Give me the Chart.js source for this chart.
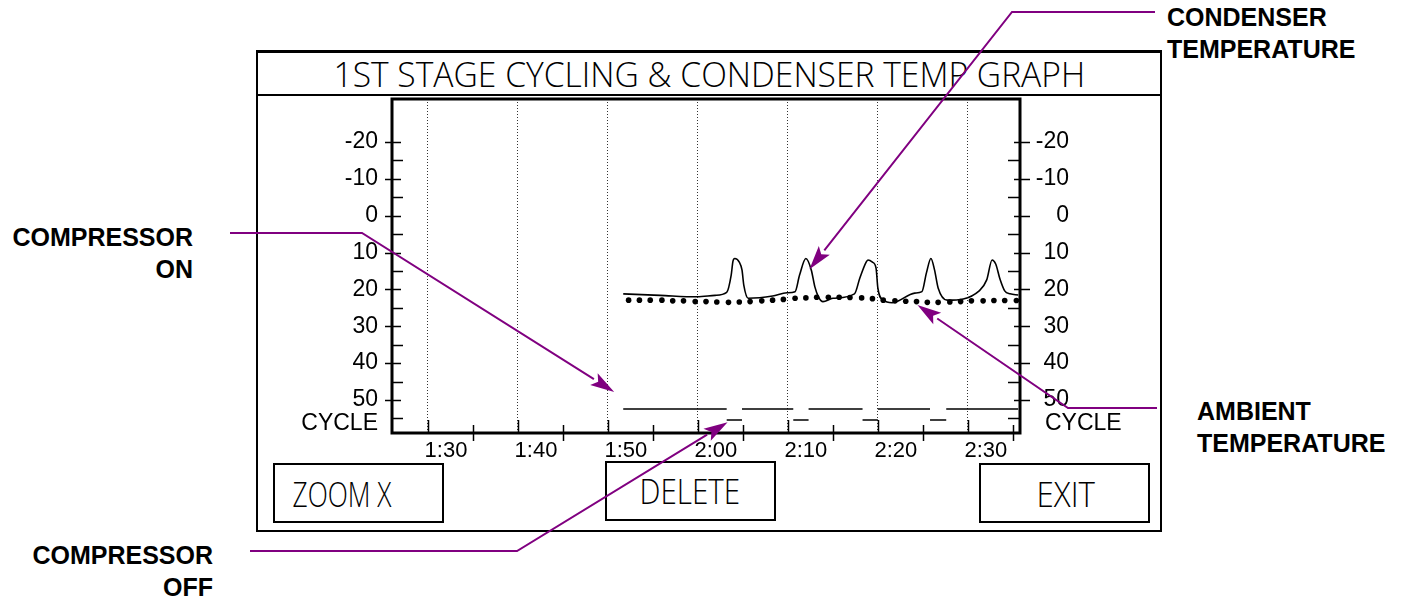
<!DOCTYPE html>
<html>
<head>
<meta charset="utf-8">
<script src="https://cdn.jsdelivr.net/npm/chart.js@4.4.1/dist/chart.umd.min.js"></script>
<style>
  html, body { margin: 0; padding: 0; background: #fff; }
  #wrap { position: relative; width: 1405px; height: 600px; overflow: hidden; font-family: "Liberation Sans", Arial, sans-serif; }
  #panel { position: absolute; left: 256px; top: 50px; width: 906px; height: 482px; box-sizing: border-box; border: 2px solid #000; border-top-width: 3px; }
  #titlebar { position: absolute; left: 256px; top: 94px; width: 906px; height: 0; border-top: 2px solid #000; }
  .btn { position: absolute; box-sizing: border-box; border: 2px solid #000; }
  .thin { position: absolute; white-space: nowrap; font-family: "Open Sans", "Liberation Sans", sans-serif; font-weight: 300; line-height: 1; color: #000; transform-origin: 50% 50%; }
  .note { position: absolute; font-weight: bold; font-size: 25px; line-height: 32px; color: #000; white-space: nowrap; }
  canvas { position: absolute; left: 0; top: 0; z-index: 2; }
</style>
</head>
<body>
<div id="wrap">
  <div id="panel"></div>
  <div id="titlebar"></div>
  <div class="btn" style="left:273px;top:463px;width:171px;height:60px"></div>
  <div class="btn" style="left:605px;top:461px;width:171px;height:60px"></div>
  <div class="btn" style="left:979px;top:463px;width:171px;height:60px"></div>

  <div class="thin" data-cx="709" data-base="87" data-w="752" data-size="35">1ST STAGE CYCLING &amp; CONDENSER TEMP GRAPH</div>
  <div class="thin" data-cx="342" data-base="507" data-w="99" data-size="34">ZOOM X</div>
  <div class="thin" data-cx="690" data-base="504" data-w="101" data-size="34">DELETE</div>
  <div class="thin" data-cx="1065" data-base="507" data-w="58" data-size="34">EXIT</div>

  <div class="note" style="left:1167px;top:1px">CONDENSER<br>TEMPERATURE</div>
  <div class="note" style="right:1212px;top:221px;text-align:right">COMPRESSOR<br>ON</div>
  <div class="note" style="left:1197px;top:395px">AMBIENT<br>TEMPERATURE</div>
  <div class="note" style="right:1192px;top:539px;text-align:right">COMPRESSOR<br>OFF</div>

  <canvas id="graph" width="1405" height="600"></canvas>
</div>

<script>
// time axis in minutes (90 = 1:30)
const timeTicks = [90, 100, 110, 120, 130, 140, 150];
const timeMinorTicks = [95, 105, 115, 125, 135, 145, 155];
const tempTicks = [-20, -15, -10, -5, 0, 5, 10, 15, 20, 25, 30, 35, 40, 45, 50, 55];

// condenser temperature (solid line)
const condenserTime = [111.7, 115.8, 119.9, 121.9, 123.2, 123.7, 123.9, 124.1, 124.6, 124.9, 125.1, 125.6,
  128.3, 129.9, 130.8, 131.3, 132.0, 132.6, 133.0, 133.4, 133.9, 135.0,
  137.4, 138.0, 138.7, 138.9, 139.4, 139.8, 140.0, 140.6, 141.6,
  144.1, 144.9, 145.4, 145.9, 146.3, 146.7, 147.7,
  151.3, 152.1, 152.7, 153.1, 153.6, 154.1, 154.7, 155.6];
const condenserTemp = [21.2, 21.6, 22.0, 21.6, 20.8, 16.1, 12.3, 11.6, 12.6, 14.7, 18.8, 22.4,
  21.8, 20.9, 20.6, 16.1, 11.6, 14.7, 19.3, 22.0, 23.3, 22.4,
  21.2, 16.9, 12.6, 12.0, 12.6, 14.2, 19.6, 22.9, 23.6,
  21.0, 20.6, 15.5, 11.6, 14.7, 19.6, 22.9,
  20.3, 17.4, 12.0, 13.1, 17.4, 20.4, 21.2, 21.5];

// ambient temperature samples (dots)
const ambientTime = [112.3, 113.5, 114.7, 116.0, 117.2, 118.4, 119.7, 120.9, 122.1, 123.4, 124.6, 125.8,
  127.1, 128.3, 129.5, 130.8, 132.0, 133.2, 134.5, 135.7, 136.9, 138.2,
  139.4, 140.6, 141.9, 143.1, 144.3, 145.5, 146.7, 148.0, 149.2, 150.4,
  151.7, 152.9, 154.1, 155.4];
const ambientTemp = [22.9, 22.9, 22.9, 22.9, 23.1, 23.1, 23.3, 23.3, 23.4, 23.5, 23.4, 23.3,
  23.1, 22.9, 22.7, 22.4, 22.3, 22.1, 22.1, 22.1, 22.2, 22.3,
  22.5, 22.9, 23.1, 23.2, 23.3, 23.5, 23.5, 23.4, 23.3, 23.1,
  23.1, 23.0, 23.0, 23.0];

// compressor cycle: switch times and state (1 = on, 0 = off) between them
const cycleSwitchTime = [111.7, 123.2, 124.9, 130.6, 132.3, 138.3, 140.0, 145.8, 147.6, 155.6];
const cycleState = [1, 0, 1, 0, 1, 0, 1, 0, 1];

// leader lines: pixel start and elbow, tip in chart values [minutes, temp]
const notes = [
  { from: [1155, 12], elbow: [1012, 12], tip: [132.4, 14.5] },
  { from: [230, 233], elbow: [362, 233], tip: [110.7, 47.8] },
  { from: [250, 551], elbow: [517, 551], tip: [123.3, 56.0] },
  { from: [1157, 408], elbow: [1068, 408], tip: [144.4, 24.2] }
];

const FONT = '"Liberation Sans", Arial, sans-serif';
const PURPLE = '#800080';

function pts(xs, ys) { return xs.map((t, i) => ({ x: t, y: ys[i] })); }

function cycleLine(level) {
  const out = [];
  cycleState.forEach((s, i) => {
    if (s !== level) return;
    out.push({ x: cycleSwitchTime[i], y: s }, { x: cycleSwitchTime[i + 1], y: s }, { x: cycleSwitchTime[i + 1], y: null });
  });
  return out;
}

function fmtTime(v) {
  return Math.floor(v / 60) + ':' + String(v % 60).padStart(2, '0');
}

function drawArrow(ctx, from, elbow, tip) {
  const ang = Math.atan2(tip[1] - elbow[1], tip[0] - elbow[0]);
  const len = 24, half = 7;
  const bx = tip[0] - len * Math.cos(ang), by = tip[1] - len * Math.sin(ang);
  ctx.beginPath();
  ctx.moveTo(from[0], from[1]);
  ctx.lineTo(elbow[0], elbow[1]);
  ctx.lineTo(bx, by);
  ctx.stroke();
  ctx.beginPath();
  ctx.moveTo(tip[0], tip[1]);
  ctx.lineTo(bx + half * Math.sin(ang), by - half * Math.cos(ang));
  ctx.lineTo(bx + 5 * Math.cos(ang), by + 5 * Math.sin(ang));
  ctx.lineTo(bx - half * Math.sin(ang), by + half * Math.cos(ang));
  ctx.closePath();
  ctx.fill();
}

const decor = {
  id: 'decor',
  afterDraw(chart) {
    const { ctx, chartArea: a } = chart;
    const x = chart.scales.x, y = chart.scales.y;
    ctx.save();
    ctx.strokeStyle = '#000';
    ctx.lineWidth = 1.5;

    // temperature ticks on both sides
    tempTicks.forEach(v => {
      const py = Math.round(y.getPixelForValue(v)) + 0.5;
      ctx.beginPath();
      if (v % 10 === 0) {
        ctx.moveTo(a.left - 7, py); ctx.lineTo(a.left + 9, py);
        ctx.moveTo(a.right - 6, py); ctx.lineTo(a.right + 10, py);
      } else {
        ctx.moveTo(a.left, py); ctx.lineTo(a.left + 11, py);
        ctx.moveTo(a.right - 12, py); ctx.lineTo(a.right, py);
      }
      ctx.stroke();
    });

    // time ticks
    timeTicks.forEach(v => {
      const px = Math.round(x.getPixelForValue(v)) + 0.5;
      ctx.beginPath(); ctx.moveTo(px, a.bottom - 13); ctx.lineTo(px, a.bottom); ctx.stroke();
    });
    timeMinorTicks.forEach(v => {
      const px = Math.round(x.getPixelForValue(v)) + 0.5;
      ctx.beginPath(); ctx.moveTo(px, a.bottom - 8); ctx.lineTo(px, a.bottom + 8); ctx.stroke();
    });

    // plot frame
    ctx.lineWidth = 3;
    ctx.strokeRect(a.left, a.top, a.right - a.left, a.bottom - a.top);

    // CYCLE labels
    ctx.fillStyle = '#000';
    ctx.font = '23px ' + FONT;
    ctx.textBaseline = 'middle';
    const cy = y.getPixelForValue(55) + 5;
    ctx.textAlign = 'right';
    ctx.fillText('CYCLE', a.left - 14, cy);
    ctx.textAlign = 'left';
    ctx.fillText('CYCLE', a.right + 25, cy);

    // leader lines
    ctx.strokeStyle = PURPLE;
    ctx.fillStyle = PURPLE;
    ctx.lineWidth = 2;
    notes.forEach(n => {
      drawArrow(ctx, n.from, n.elbow, [x.getPixelForValue(n.tip[0]), y.getPixelForValue(n.tip[1])]);
    });
    ctx.restore();
  }
};

const tempLabel = v => (v % 10 === 0 ? String(v) : '');

new Chart(document.getElementById('graph'), {
  type: 'line',
  data: {
    datasets: [{
      label: 'Condenser temperature',
      data: pts(condenserTime, condenserTemp),
      borderColor: '#000',
      borderWidth: 1.6,
      pointRadius: 0,
      cubicInterpolationMode: 'monotone'
    }, {
      label: 'Ambient temperature',
      data: pts(ambientTime, ambientTemp),
      showLine: false,
      pointRadius: 2.8,
      pointBorderWidth: 0,
      pointBackgroundColor: '#000'
    }, {
      label: 'Compressor on',
      data: cycleLine(1),
      yAxisID: 'cycle',
      borderColor: '#000',
      borderWidth: 1.6,
      pointRadius: 0,
      spanGaps: false
    }, {
      label: 'Compressor off',
      data: cycleLine(0),
      yAxisID: 'cycle',
      borderColor: '#000',
      borderWidth: 1.6,
      pointRadius: 0,
      spanGaps: false
    }]
  },
  options: {
    responsive: false,
    animation: false,
    events: [],
    layout: { padding: { left: 0, top: 99, right: 336, bottom: 0 } },
    plugins: { legend: { display: false }, tooltip: { enabled: false } },
    scales: {
      x: {
        type: 'linear',
        min: 86,
        max: 155.8,
        afterBuildTicks: s => { s.ticks = timeTicks.map(v => ({ value: v })); },
        afterFit: s => { s.height = 167; },
        ticks: { callback: fmtTime, labelOffset: 18, padding: 5, autoSkip: false, maxRotation: 0, color: '#000', font: { size: 22, family: FONT } },
        grid: { color: '#333', lineWidth: 1, drawTicks: false, borderDash: [1, 2] },
        border: { display: false, dash: [1, 2] }
      },
      y: {
        position: 'left',
        reverse: true,
        min: -31.67,
        max: 58.95,
        afterBuildTicks: s => { s.ticks = tempTicks.map(v => ({ value: v })); },
        afterFit: s => { s.width = 392; },
        ticks: { callback: tempLabel, padding: 14, autoSkip: false, color: '#000', font: { size: 23, family: FONT } },
        grid: { display: false, drawTicks: false },
        border: { display: false }
      },
      y2: {
        position: 'right',
        reverse: true,
        min: -31.67,
        max: 58.95,
        afterBuildTicks: s => { s.ticks = tempTicks.map(v => ({ value: v })); },
        afterFit: s => { s.width = 49; },
        ticks: { callback: tempLabel, crossAlign: 'far', autoSkip: false, color: '#000', font: { size: 23, family: FONT } },
        grid: { display: false, drawTicks: false },
        border: { display: false }
      },
      cycle: { display: false, min: -1.182, max: 29.18 }
    }
  },
  plugins: [decor]
});

// fit the thin panel texts to their widths
function fitTexts() {
  document.querySelectorAll('.thin').forEach(el => {
    const size = +el.dataset.size;
    el.style.fontSize = size + 'px';
    el.style.transform = 'none';
    const w = el.offsetWidth;
    el.style.left = (+el.dataset.cx - w / 2) + 'px';
    el.style.top = (+el.dataset.base - 0.888 * size) + 'px';
    el.style.transform = 'scaleX(' + (+el.dataset.w / w) + ')';
  });
}
fitTexts();
if (document.fonts) document.fonts.ready.then(fitTexts);
</script>
</body>
</html>
